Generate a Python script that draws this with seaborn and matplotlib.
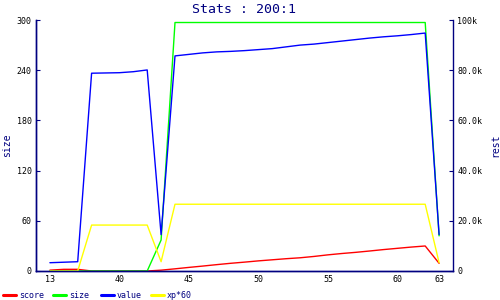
import matplotlib
matplotlib.use("Agg")
import matplotlib.pyplot as plt
import seaborn as sns
import pandas as pd
import numpy as np
from matplotlib.lines import Line2D
from matplotlib.ticker import FuncFormatter

# ---- data ----
levels = [13, 36, 37, 38, 39, 40, 41, 42, 43, 44, 45, 46, 47, 48, 49, 50,
          51, 52, 53, 54, 55, 56, 57, 58, 59, 60, 61, 62, 63]
score = [1, 2, 2, 0, 0, 0, 0, 0, 1, 2.6, 4.3, 5.9, 7.6, 9.2, 10.6, 12.1, 13.4,
         14.7, 15.8, 17.4, 19.3, 20.9, 22.3, 23.9, 25.6, 27.1, 28.6, 29.9, 9.2]
size = [0, 0, 0, 0, 0, 0, 0, 0, 37, 297, 297, 297, 297, 297, 297, 297, 297,
        297, 297, 297, 297, 297, 297, 297, 297, 297, 297, 297, 42]
value = [3300, 3500, 3700, 78800, 78900, 79000, 79400, 80100, 14500, 85700,
         86300, 86900, 87300, 87500, 87800, 88200, 88600, 89300, 90000, 90400,
         91000, 91600, 92200, 92800, 93300, 93700, 94200, 94800, 14500]
xp60 = [0, 0, 0, 18300, 18300, 18300, 18300, 18300, 3700, 26600, 26600, 26600,
        26600, 26600, 26600, 26600, 26600, 26600, 26600, 26600, 26600, 26600,
        26600, 26600, 26600, 26600, 26600, 26600, 3300]
left_ticks = [0, 60, 120, 180, 240, 300]
right_ticks = [0, 20000, 40000, 60000, 80000, 100000]
title = "Stats : 200:1"
series_names = ["score", "size", "value", "xp*60"]

NAVY = "#000080"
colors = {"score": "#ff0000", "size": "#00ff00", "value": "#0000ff", "xp*60": "#ffff00"}

sns.set_style("white")
plt.rcParams['font.family'] = ['DejaVu Sans Mono', 'DejaVu Sans']

df = pd.DataFrame({"pos": np.arange(len(levels)), "level": levels,
                   "score": score, "size": size, "value": value, "xp60": xp60})

fig = plt.figure(figsize=(5, 3), dpi=100)
ax = fig.add_axes([36 / 500, 29 / 300, 417 / 500, 251 / 300])
sns.lineplot(data=df, x="pos", y="score", ax=ax, color=colors["score"], lw=1)
sns.lineplot(data=df, x="pos", y="size", ax=ax, color=colors["size"], lw=1)
ax2 = ax.twinx()
sns.lineplot(data=df, x="pos", y="value", ax=ax2, color=colors["value"], lw=1)
sns.lineplot(data=df, x="pos", y="xp60", ax=ax2, color=colors["xp*60"], lw=1)

ax.set_xlim(-1, len(levels))
ax.set_ylim(0, 300)
ax2.set_ylim(0, 100000)
ax.set_yticks(left_ticks)
ax.set_yticklabels([str(t) for t in left_ticks])
ax2.set_yticks(right_ticks)
ax2.yaxis.set_major_formatter(FuncFormatter(
    lambda v, p: "0" if v == 0 else ("100k" if v >= 100000 else f"{v/1000:.1f}k")))
xt = [i for i, l in enumerate(levels) if i == 0 or i == len(levels) - 1 or l % 5 == 0]
ax.set_xticks(xt)
ax.set_xticklabels([str(levels[i]) for i in xt])

for a in (ax, ax2):
    a.tick_params(direction="in", length=3, width=0.8, color=NAVY,
                  labelsize=6, labelcolor="black", pad=3)
    for s in ("left", "right", "bottom"):
        a.spines[s].set_color(NAVY)
        a.spines[s].set_linewidth(1)
        a.spines[s].set_visible(True)
    a.spines["top"].set_visible(False)
    a.set_xlabel("")
ax.spines["right"].set_visible(False)
ax2.tick_params(axis="x", length=0)

ax.set_ylabel("size", color=NAVY, fontsize=7, va="center")
ax.yaxis.set_label_coords((7.5 - 36) / 417, 0.5)
ax2.set_ylabel("rest", color=NAVY, fontsize=7, va="center", rotation=90)
ax2.yaxis.set_label_coords((495 - 36) / 417, 0.5)

ax.set_title(title, color=NAVY, fontsize=9.5, pad=5)

leg_x = [3, 53, 101, 151]
for name, x in zip(series_names, leg_x):
    h = Line2D([], [], color=colors[name], lw=2.2)
    fig.legend(handles=[h], labels=[name], loc="center left",
               bbox_to_anchor=(x / 500, 1 - 295 / 300), frameon=False, fontsize=6,
               handlelength=1.5, handletextpad=0.4, borderpad=0, borderaxespad=0,
               labelcolor=NAVY)

fig.savefig("out.png", dpi=100)
